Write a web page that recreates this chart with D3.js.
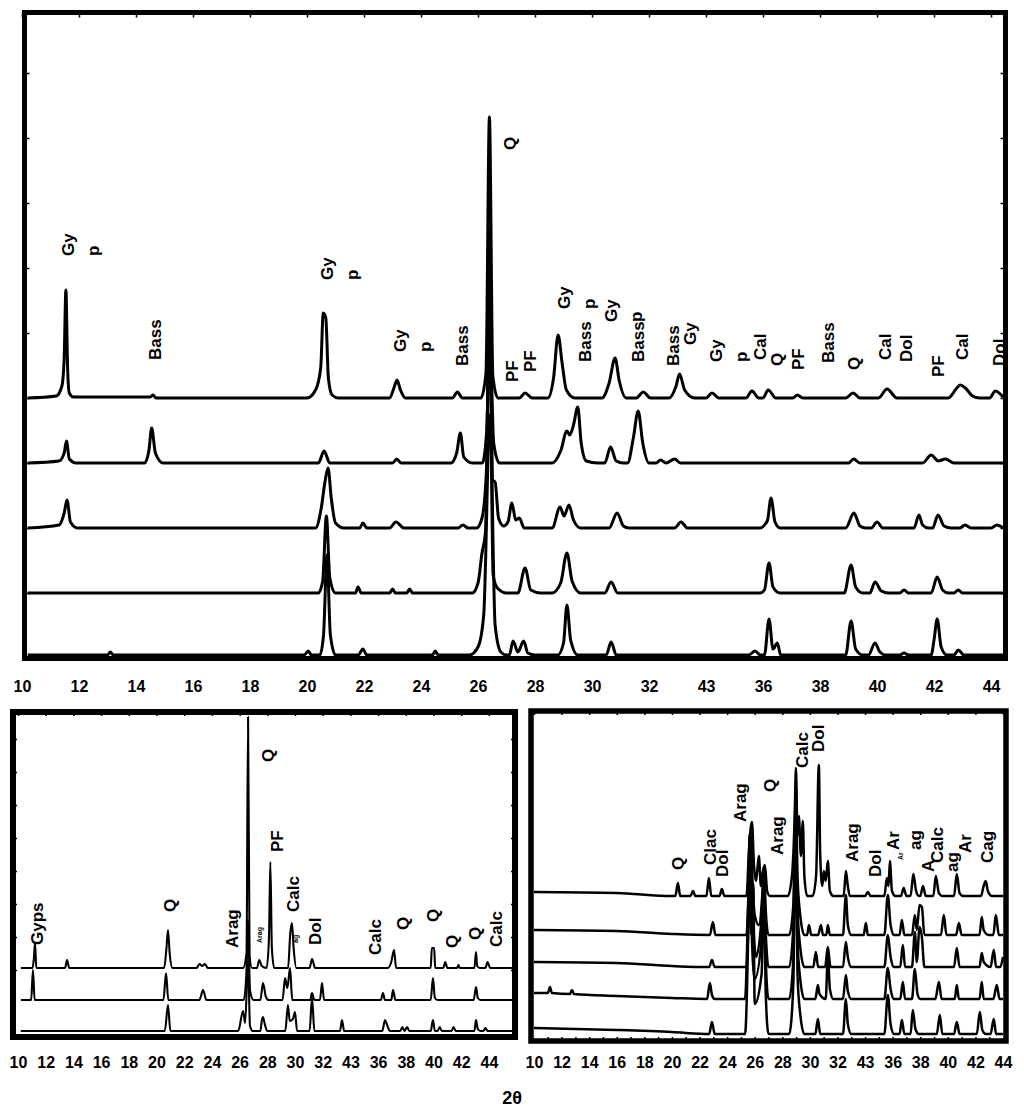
<!DOCTYPE html>
<html><head><meta charset="utf-8">
<script src="https://cdn.jsdelivr.net/npm/d3@7"></script>
<style>
body{margin:0;background:#fff}
text{font-family:"Liberation Sans",Arial,sans-serif;font-weight:bold;fill:#000}
</style>
</head><body>
<script>
// ---------- data ----------
const tickValues = [10,12,14,16,18,20,22,24,26,28,30,32,34,36,38,40,42,44];
const tickLabels = ["10","12","14","16","18","20","22","24","26","28","30","32","43","36","38","40","42","44"];
const axisTitle = "2θ";

// top panel: five diffractograms, [2θ, intensity above own baseline]
const topOffsets = [260,195,130,65,3];
const topS1 = [[10.2,0],[11.2,2],[11.4,12],[11.48,40],[11.54,108],[11.6,30],[11.66,5],[11.8,1],[14.5,1],[14.6,3],[14.7,0],[20.0,0],[20.3,8],[20.48,30],[20.57,85],[20.66,80],[20.75,20],[20.88,3],[21.1,0],[22.9,0],[23.05,10],[23.16,18],[23.28,8],[23.45,0],[25.1,0],[25.28,6],[25.45,0],[26.1,0],[26.28,25],[26.4,281],[26.52,22],[26.7,0],[27.45,0],[27.65,5],[27.9,0],[28.45,0],[28.65,20],[28.81,63],[28.95,35],[29.1,8],[29.4,0],[30.35,0],[30.6,15],[30.81,40],[30.95,18],[31.2,0],[31.55,0],[31.8,6],[32.05,0],[32.7,0],[32.95,12],[33.07,24],[33.25,8],[33.6,0],[34.0,0],[34.21,5],[34.45,0],[35.4,0],[35.61,7],[35.85,0],[36.0,0],[36.18,8],[36.45,0],[37.05,0],[37.2,3],[37.4,0],[38.9,0],[39.16,5],[39.4,0],[40.05,0],[40.35,9],[40.7,0],[42.5,0],[42.8,10],[42.92,13],[43.1,10],[43.35,2],[43.6,0],[43.95,0],[44.15,7],[44.42,1]];
const topS2 = [[10.2,0],[11.3,2],[11.48,10],[11.56,22],[11.66,4],[11.9,0],[14.3,0],[14.45,12],[14.55,35],[14.68,10],[14.95,0],[20.4,0],[20.6,12],[20.8,0],[23.0,0],[23.15,4],[23.3,0],[25.05,0],[25.25,10],[25.38,30],[25.5,6],[25.8,0],[26.15,0],[26.3,30],[26.42,120],[26.55,20],[26.75,0],[28.6,0],[28.9,12],[29.12,32],[29.22,28],[29.35,38],[29.5,56],[29.62,20],[29.8,2],[30.2,0],[30.45,0],[30.65,16],[30.85,2],[31.1,0],[31.25,0],[31.45,25],[31.62,52],[31.78,20],[32.0,0],[32.25,0],[32.4,3],[32.6,0],[32.9,4],[33.1,0],[39.0,0],[39.18,4],[39.4,0],[41.6,0],[41.9,8],[42.15,2],[42.4,4],[42.7,0],[44.42,0]];
const topS3 = [[10.2,0],[11.3,3],[11.48,15],[11.58,28],[11.7,6],[11.95,0],[20.3,0],[20.5,20],[20.64,48],[20.74,60],[20.85,30],[21.0,5],[21.3,0],[21.85,0],[21.96,5],[22.1,0],[22.9,0],[23.12,6],[23.4,0],[25.3,0],[25.47,3],[25.65,0],[25.95,0],[26.14,10],[26.3,60],[26.42,300],[26.5,48],[26.6,46],[26.72,10],[26.9,2],[27.05,6],[27.19,25],[27.32,8],[27.45,10],[27.62,0],[28.6,0],[28.88,21],[29.02,12],[29.19,23],[29.35,8],[29.6,0],[30.6,0],[30.88,15],[31.1,2],[31.3,0],[32.9,0],[33.12,6],[33.35,0],[35.9,0],[36.08,4],[36.16,8],[36.28,30],[36.42,6],[36.6,0],[38.9,0],[39.19,15],[39.4,2],[39.6,0],[39.8,0],[40.0,6],[40.2,0],[41.3,0],[41.47,13],[41.6,3],[41.8,0],[41.95,0],[42.14,13],[42.35,2],[42.6,0],[42.9,0],[43.09,3],[43.3,0],[44.0,0],[44.21,3],[44.42,0]];
const topS4 = [[10.2,0],[20.4,0],[20.55,12],[20.68,77],[20.8,15],[21.0,0],[21.7,0],[21.79,6],[21.9,0],[22.9,0],[23.0,4],[23.1,0],[23.5,0],[23.6,4],[23.7,0],[25.8,0],[26.0,10],[26.14,40],[26.26,60],[26.4,290],[26.53,18],[26.68,5],[27.0,0],[27.4,0],[27.65,25],[27.85,3],[28.2,0],[28.6,0],[28.9,10],[29.12,40],[29.3,12],[29.6,0],[30.45,0],[30.67,11],[30.9,0],[35.9,0],[36.05,3],[36.21,30],[36.35,6],[36.6,0],[38.85,0],[39.09,28],[39.25,6],[39.5,0],[39.75,0],[39.93,11],[40.15,2],[40.4,0],[40.8,0],[40.95,3],[41.1,0],[41.9,0],[42.11,16],[42.3,3],[42.5,0],[42.7,0],[42.85,3],[43.0,0],[44.42,0]];
const topS5 = [[10.2,0],[13.0,0],[13.1,3],[13.2,0],[19.9,0],[20.05,4],[20.15,0],[20.45,0],[20.58,20],[20.7,100],[20.82,20],[21.0,0],[21.8,0],[21.96,6],[22.1,0],[24.4,0],[24.5,4],[24.6,0],[25.7,0],[26.0,8],[26.2,40],[26.42,240],[26.6,30],[26.8,3],[27.0,0],[27.1,0],[27.23,14],[27.4,3],[27.6,14],[27.75,2],[28.0,0],[28.8,0],[29.0,12],[29.12,50],[29.25,15],[29.5,0],[30.5,0],[30.67,13],[30.85,0],[35.5,0],[35.72,4],[35.9,0],[36.05,0],[36.21,36],[36.35,6],[36.5,12],[36.62,0],[38.9,0],[39.09,34],[39.25,6],[39.5,0],[39.7,0],[39.93,12],[40.1,3],[40.3,0],[40.8,0],[40.95,2],[41.1,0],[41.9,0],[42.0,15],[42.11,36],[42.25,8],[42.45,0],[42.7,0],[42.85,5],[43.05,0],[44.42,0]];
const topLabels = [
  [["Gy","p"],11.61,402],[["Bass"],14.67,298],[["Gy","p"],20.70,378],[["Gy","p"],23.26,306],
  [["Bass"],25.44,292],[["Q"],27.12,508],[["PF"],27.19,276],[["PF"],27.82,286],
  [["Gy","p"],29.02,349],[["Bass"],29.75,296],[["Gy","p"],30.67,336],[["Bass"],31.61,296],
  [["Bass"],32.84,292],[["Gy"],33.44,313],[["Gy","p"],34.35,296],[["Cal"],35.89,298],
  [["Q"],36.49,292],[["PF"],37.23,288],[["Bass"],38.28,295],[["Q"],39.19,288],
  [["Cal"],40.28,298],[["Dol"],41.02,296],[["PF"],42.14,281],[["Cal"],42.98,298],[["Dol"],44.28,292]
];

// bottom-left panel: three diffractograms
const blOffsets = [68,36,5];
const blS1 = [[10.2,0],[11.05,0],[11.15,10],[11.23,25],[11.32,0],[13.4,0],[13.54,8],[13.7,0],[20.55,0],[20.72,20],[20.83,38],[20.95,15],[21.15,0],[22.9,0],[23.1,4],[23.3,2],[23.5,4],[23.7,0],[26.25,0],[26.5,15],[26.61,251],[26.72,12],[26.9,0],[27.25,0],[27.42,8],[27.6,2],[27.95,0],[28.12,30],[28.22,106],[28.33,20],[28.5,0],[29.5,0],[29.66,35],[29.78,45],[29.9,20],[30.1,0],[31.05,0],[31.23,9],[31.45,0],[36.7,0],[36.95,6],[37.15,18],[37.3,0],[39.8,0],[39.88,20],[40.05,20],[40.12,0],[40.7,0],[40.85,6],[41.0,0],[41.7,0],[41.8,3],[41.9,0],[42.95,0],[43.07,16],[43.15,2],[43.35,0],[43.75,0],[43.9,6],[44.1,0],[45.7,0]];
const blS2 = [[10.2,0],[10.95,0],[11.08,30],[11.2,0],[20.5,0],[20.69,27],[20.85,0],[23.1,0],[23.36,10],[23.6,0],[26.3,0],[26.5,30],[26.61,80],[26.75,10],[27.0,0],[27.5,0],[27.69,17],[27.9,3],[28.1,0],[29.1,0],[29.28,22],[29.45,12],[29.64,32],[29.8,0],[31.1,0],[31.23,7],[31.4,0],[31.8,0],[31.95,17],[32.1,0],[36.2,0],[36.35,7],[36.5,0],[36.95,0],[37.08,10],[37.25,0],[39.8,0],[39.96,22],[40.1,2],[40.3,0],[42.9,0],[43.07,13],[43.2,2],[43.4,0],[45.7,0]];
const blS3 = [[10.2,0],[20.6,0],[20.83,26],[21.0,0],[25.9,0],[26.25,20],[26.4,8],[26.61,70],[26.75,5],[26.95,0],[27.5,0],[27.6,10],[27.69,14],[27.8,8],[28.0,0],[29.3,0],[29.49,26],[29.62,10],[29.85,12],[30.0,19],[30.15,0],[31.05,0],[31.23,33],[31.4,0],[33.25,0],[33.39,11],[33.55,0],[36.3,0],[36.5,11],[36.65,6],[36.85,0],[37.6,0],[37.75,4],[37.9,0],[38.1,4],[38.25,0],[39.8,0],[39.96,11],[40.1,0],[40.3,0],[40.45,4],[40.6,0],[41.3,0],[41.45,4],[41.6,0],[42.95,0],[43.07,11],[43.2,2],[43.4,0],[43.6,0],[43.75,3],[43.9,0],[45.7,0]];
const blLabels = [
  [["Gyps"],11.37,91],[["Q"],20.97,124],[["Arag"],25.45,88],[["Q"],28.05,274],[["PF"],28.70,184],
  [["Calc"],29.86,124],[["Dol"],31.44,91],[["Calc"],35.78,81],[["Q"],37.8,106],[["Q"],39.96,114],
  [["Q"],41.34,88],[["Q"],43.0,96],[["Calc"],44.51,89]
];
const blTinyLabels = [[["Arag"],27.47,93],[["ag"],30.0,93]];

// bottom-right panel: five diffractograms
const brOffsets = [142,103,71,39,4];
const brS1 = [[10,4],[16,3],[20,0],[20.25,0],[20.43,13],[20.6,0],[21.35,0],[21.52,5],[21.7,0],[22.5,0],[22.68,18],[22.85,0],[23.45,0],[23.62,7],[23.8,0],[25.4,0],[25.6,50],[25.8,74],[25.95,30],[26.1,15],[26.3,40],[26.45,10],[26.6,25],[26.74,31],[26.9,5],[27.1,0],[28.4,0],[28.7,20],[28.9,80],[28.99,128],[29.1,60],[29.2,80],[29.35,40],[29.49,75],[29.6,20],[29.8,0],[30.2,0],[30.45,20],[30.65,131],[30.75,40],[30.9,10],[31.01,25],[31.15,15],[31.3,35],[31.45,5],[31.7,0],[32.45,0],[32.61,25],[32.75,10],[32.9,0],[34.0,0],[34.2,4],[34.4,0],[35.4,0],[35.58,18],[35.7,10],[35.8,35],[35.95,5],[36.2,0],[36.6,0],[36.8,8],[37.0,0],[37.3,0],[37.5,22],[37.7,5],[37.9,0],[38.0,0],[38.2,10],[38.4,0],[38.95,0],[39.13,20],[39.35,3],[39.6,0],[40.45,0],[40.65,22],[40.85,3],[41.1,0],[42.4,0],[42.6,10],[42.75,15],[42.9,5],[43.2,0],[44,0]];
const brS2 = [[10,5],[16,4],[20,1],[22.75,0],[22.97,13],[23.15,0],[25.4,0],[25.58,50],[25.7,100],[25.85,50],[26.0,20],[26.3,10],[26.55,40],[26.67,68],[26.8,25],[27.0,0],[28.5,0],[28.8,30],[28.99,150],[29.1,60],[29.3,20],[29.6,0],[29.8,0],[29.93,10],[30.1,0],[30.6,0],[30.8,10],[30.95,0],[31.2,0],[31.3,10],[31.45,0],[32.4,0],[32.61,40],[32.75,10],[33.0,0],[33.9,0],[34.06,12],[34.2,0],[35.4,0],[35.65,40],[35.85,10],[36.1,0],[36.5,0],[36.67,15],[36.85,0],[37.4,0],[37.61,20],[37.75,5],[37.95,30],[38.12,28],[38.3,0],[39.5,0],[39.71,20],[39.9,0],[40.6,0],[40.8,12],[41.0,0],[42.3,0],[42.46,18],[42.6,5],[42.95,0],[43.3,0],[43.48,20],[43.7,0],[44,0]];
const brS3 = [[10,5],[16,4],[20,1],[22.7,0],[22.9,7],[23.1,0],[25.4,0],[25.58,60],[25.7,130],[25.85,60],[26.1,10],[26.5,50],[26.67,90],[26.8,35],[27.0,0],[28.5,0],[28.8,40],[28.99,170],[29.1,60],[29.3,20],[29.6,0],[30.25,0],[30.43,15],[30.6,0],[31.1,0],[31.3,20],[31.5,0],[32.4,0],[32.61,25],[32.75,10],[33.0,0],[35.4,0],[35.65,32],[35.85,10],[36.1,0],[36.55,0],[36.74,22],[36.9,0],[37.4,0],[37.61,35],[37.75,5],[37.95,40],[38.12,30],[38.3,0],[40.45,0],[40.65,19],[40.85,0],[42.3,0],[42.46,14],[42.6,5],[43.1,0],[43.33,17],[43.5,0],[43.8,0],[44.0,10]];
const brS4 = [[10,6],[11.0,6],[11.16,12],[11.3,6],[12.6,5],[12.75,9],[12.9,5],[16,3],[20,1],[22.55,0],[22.75,16],[22.9,4],[23.1,0],[25.3,0],[25.5,80],[25.65,165],[25.8,60],[26.0,20],[26.5,60],[26.67,120],[26.8,40],[27.0,0],[28.5,0],[28.8,40],[28.99,190],[29.1,60],[29.3,20],[29.6,0],[30.4,0],[30.58,14],[30.7,5],[31.15,0],[31.3,44],[31.45,10],[31.7,0],[32.4,0],[32.61,24],[32.75,8],[33.0,0],[35.4,0],[35.65,31],[35.85,10],[36.1,0],[36.55,0],[36.74,17],[36.9,0],[37.4,0],[37.61,30],[37.8,5],[38.0,0],[39.1,0],[39.35,17],[39.55,0],[40.5,0],[40.65,14],[40.8,0],[42.3,0],[42.46,17],[42.6,0],[43.3,0],[43.55,14],[43.75,0],[44,0]];
const brS5 = [[10,6],[16,4],[20,2],[22.7,0],[22.9,12],[23.1,0],[25.3,0],[25.5,80],[25.65,200],[25.75,100],[25.9,150],[26.0,30],[26.5,60],[26.67,150],[26.8,40],[27.0,0],[28.5,0],[28.8,50],[28.99,230],[29.1,60],[29.3,20],[29.6,0],[30.4,0],[30.58,15],[30.75,0],[32.4,0],[32.61,35],[32.75,10],[33.0,0],[35.4,0],[35.65,39],[35.85,10],[36.1,0],[36.5,0],[36.67,14],[36.85,0],[37.3,0],[37.46,24],[37.65,5],[37.9,0],[39.2,0],[39.42,19],[39.6,0],[40.45,0],[40.65,12],[40.85,0],[42.1,0],[42.32,22],[42.5,4],[42.75,0],[43.1,0],[43.33,15],[43.5,0],[44,0]];
const brLabels = [
  [["Q"],20.43,168],[["Clac"],22.75,173],[["Dol"],23.62,161],[["Arag"],24.93,216],[["Q"],27.1,246],
  [["Arag"],27.6,183],[["Calc"],29.42,270],[["Dol"],30.58,286],[["Arag"],33.04,176],[["Dol"],34.71,161],
  [["Ar"],36.01,188],[["ag"],37.61,188],[["A"],38.55,166],[["Calc"],39.2,175],[["ag"],40.29,166],
  [["Ar"],41.23,185],[["Cag"],42.83,175]
];
const brTinyLabels = [[["Ar"],36.55,178]];

// ---------- layout ----------
const svg = d3.select("body").append("svg").attr("width",1024).attr("height",1115);

const panels = [
  {name:"top", series:[topS1,topS2,topS3,topS4,topS5], offsets:topOffsets, labels:topLabels, tiny:[],
   xDomain:[10,44.42], xRange:[22,1003], yDomain:[0,650], yRange:[658,8],
   frame:[24.5,12.5,981,646], sw:5, lw:3, tickY:681, yTicks:[65,130,195,260,325,390,455,520,585], tick:5},
  {name:"bl", series:[blS1,blS2,blS3], offsets:blOffsets, labels:blLabels, tiny:blTinyLabels,
   xDomain:[10,45.74], xRange:[18,513], yDomain:[0,325], yRange:[1036,711],
   frame:[13,712,502,325], sw:6, lw:2.1, tickY:1057, yTicks:[66,99,132,165,198,231,264,297], tick:4},
  {name:"br", series:[brS1,brS2,brS3,brS4,brS5], offsets:brOffsets, labels:brLabels, tiny:brTinyLabels,
   xDomain:[10,44], xRange:[534,1003], yDomain:[0,330], yRange:[1038,708],
   frame:[531,711,475,330], sw:5.5, lw:2.5, tickY:1057, yTicks:[], tick:4}
];

panels.forEach(p=>{
  const x = d3.scaleLinear().domain(p.xDomain).range(p.xRange);
  const y = d3.scaleLinear().domain(p.yDomain).range(p.yRange);
  const [fx,fy,fw,fh] = p.frame;
  const g = svg.append("g");
  const cid = "clip-"+p.name;
  svg.append("clipPath").attr("id",cid).append("rect")
    .attr("x",fx).attr("y",fy).attr("width",fw).attr("height",fh);
  const gl = g.append("g").attr("clip-path",`url(#${cid})`);
  p.series.forEach((s,i)=>{
    const line = d3.line().x(d=>x(d[0])).y(d=>y(d[1]+p.offsets[i])).curve(d3.curveMonotoneX);
    gl.append("path").attr("d",line(s)).attr("fill","none").attr("stroke","#000")
      .attr("stroke-width",p.lw).attr("stroke-linejoin","round");
  });
  // inward ticks
  const strip = a=>{a.select(".domain").remove(); a.selectAll("line").attr("stroke","#000").attr("stroke-width",1.5);};
  g.append("g").attr("transform",`translate(0,${fy})`)
    .call(d3.axisTop(x).tickValues(tickValues).tickSize(-p.tick).tickFormat("")).call(strip);
  if(p.yTicks.length){
    g.append("g").attr("transform",`translate(${fx},0)`)
      .call(d3.axisLeft(y).tickValues(p.yTicks).tickSize(-p.tick).tickFormat("")).call(strip);
    g.append("g").attr("transform",`translate(${fx+fw},0)`)
      .call(d3.axisRight(y).tickValues(p.yTicks).tickSize(-p.tick).tickFormat("")).call(strip);
  }
  if(p.name==="br"){
    g.append("g").attr("transform",`translate(0,${fy+fh})`)
      .call(d3.axisBottom(x).tickValues(d3.range(11,44,1)).tickSize(-p.tick).tickFormat("")).call(strip);
  }
  // frame
  g.append("rect").attr("x",fx).attr("y",fy).attr("width",fw).attr("height",fh)
    .attr("fill","none").attr("stroke","#000").attr("stroke-width",p.sw);
  // tick labels
  g.append("g").attr("transform",`translate(0,${p.tickY})`)
    .call(d3.axisBottom(x).tickValues(tickValues).tickFormat((d,i)=>tickLabels[i]).tickSize(0).tickPadding(0))
    .call(a=>{a.select(".domain").remove();
      a.selectAll("text").attr("font-size",16).attr("font-weight","bold")
       .attr("font-family",'"Liberation Sans",Arial,sans-serif').attr("fill","#000");});
  // peak labels
  const drawLabels = (arr,fs)=>arr.forEach(([lines,t,lv])=>{
    const tx = g.append("text").attr("transform",`translate(${x(t)},${y(lv)}) rotate(-90)`)
      .attr("font-size",fs).attr("text-anchor","start");
    lines.forEach((s,i)=>tx.append("tspan").attr("x",0).attr("y",i*25).attr("dy","0.36em").text(s));
  });
  drawLabels(p.labels,17);
  drawLabels(p.tiny,7);
});

svg.append("text").attr("x",512).attr("y",1104).attr("text-anchor","middle")
  .attr("font-size",18).text(axisTitle);
</script>
</body></html>
